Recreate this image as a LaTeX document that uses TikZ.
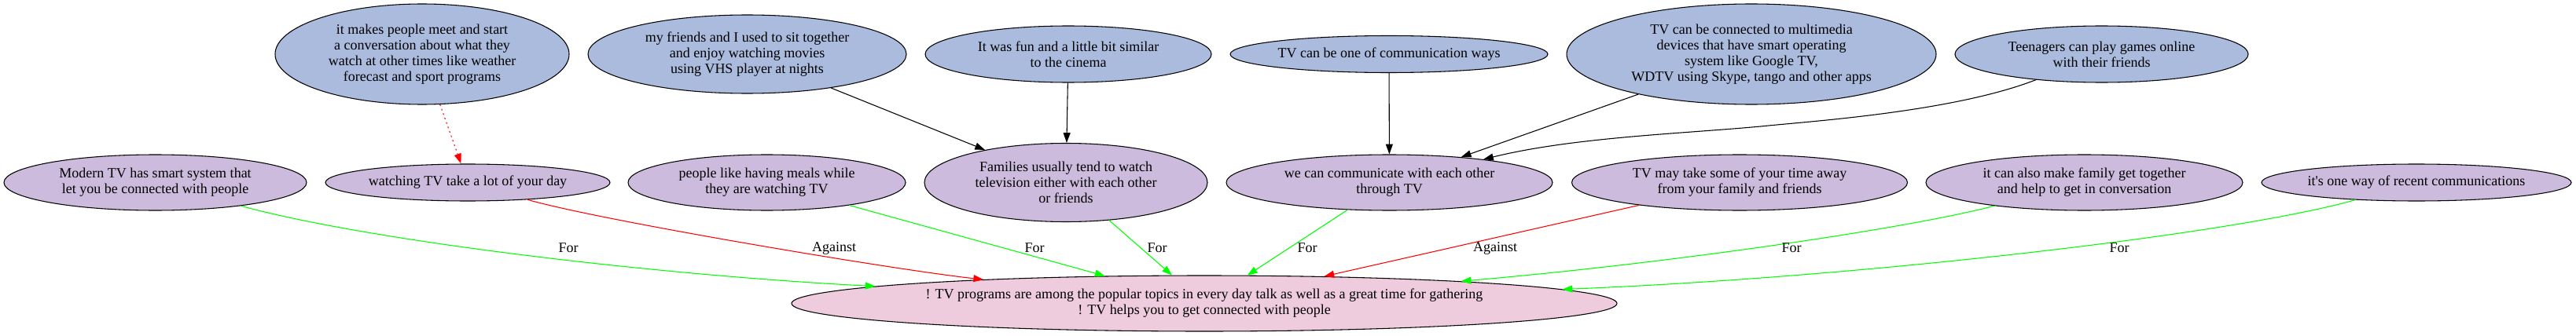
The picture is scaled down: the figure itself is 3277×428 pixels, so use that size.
\documentclass[tikz,border=0pt]{standalone}
\usepackage{fontspec}
\setmainfont{Liberation Serif}[Ligatures=TeXOff]
\usetikzlibrary{shapes.geometric,arrows.meta}
\definecolor{blueN}{HTML}{AABBDD}
\definecolor{purpN}{HTML}{CCBBDD}
\definecolor{pinkN}{HTML}{EECCDD}
\definecolor{grN}{HTML}{00FF00}
\definecolor{rdN}{HTML}{FF0000}
\begin{document}
\begin{tikzpicture}[x=0.75pt,y=-0.75pt,
  basenode/.style={ellipse, draw=black, line width=0.8pt, inner sep=0pt, align=center,
    font=\fontsize{13.5pt}{15pt}\selectfont},
  sz/.style 2 args={minimum width=#1*0.75pt, minimum height=#2*0.75pt},
  claimnode/.style={basenode, fill=blueN},
  reasonnode/.style={basenode, fill=purpN},
  goalnode/.style={basenode, fill=pinkN},
  lbl/.style={inner sep=0pt, font=\fontsize{13.5pt}{15pt}\selectfont},
  conn/.style={line width=0.8pt, -{Triangle[length=9.6pt,width=6.7pt]}},
  pro/.style={conn, color=grN},
  con/.style={conn, color=rdN},
  supp/.style={conn, color=black},
  dotcon/.style={conn, color=rdN, dash pattern=on 1.5pt off 3pt},
]
\useasboundingbox (0,0) rectangle (3277,428);

% top row
\node[claimnode, sz={374}{128}] (t1) at (537,69) {it makes people meet and start\\a conversation about what they\\watch at other times like weather\\forecast and sport programs};
\node[claimnode, sz={405}{100}] (t2) at (950.5,69) {my friends and I used to sit together\\and enjoy watching movies\\using VHS player at nights};
\node[claimnode, sz={364}{72}] (t3) at (1359,69) {It was fun and a little bit similar\\to the cinema};
\node[claimnode, sz={404}{47}] (t4) at (1767,69) {TV can be one of communication ways};
\node[claimnode, sz={470}{128}] (t5) at (2228,69) {TV can be connected to multimedia\\devices that have smart operating\\system like Google TV,\\WDTV using Skype, tango and other apps};
\node[claimnode, sz={373}{72}] (t6) at (2673.5,69) {Teenagers can play games online\\with their friends};

% middle row
\node[reasonnode, sz={385}{71}] (m1) at (197.5,232.5) {Modern TV has smart system that\\let you be connected with people};
\node[reasonnode, sz={362}{47}] (m2) at (595,232.5) {watching TV take a lot of your day};
\node[reasonnode, sz={353}{71}] (m3) at (975.5,232.5) {people like having meals while\\they are watching TV};
\node[reasonnode, sz={360}{100}] (m4) at (1356,232.5) {Families usually tend to watch\\television either with each other\\or friends};
\node[reasonnode, sz={415}{71}] (m5) at (1767.5,232.5) {we can communicate with each other\\through TV};
\node[reasonnode, sz={427}{71}] (m6) at (2213,232.5) {TV may take some of your time away\\from your family and friends};
\node[reasonnode, sz={403}{71}] (m7) at (2651.5,232.5) {it can also make family get together\\and help to get in conversation};
\node[reasonnode, sz={394}{47}] (m8) at (3074,232.5) {it's one way of recent communications};

% goal
\node[goalnode, sz={1050}{71}] (main) at (1532,386.5) {! TV programs are among the popular topics in every day talk as well as a great time for gathering\\! TV helps you to get connected with people};

% support edges
\draw[dotcon] (t1) -- (m2);
\draw[supp] (t2) -- (m4);
\draw[supp] (t3) -- (m4);
\draw[supp] (t4) -- (m5);
\draw[supp] (t5) -- (m5);
\draw[supp] (t6) .. controls (2487.6,141.6) and (2310,154) .. (2250,160)
  .. controls (2150,170) and (2004.5,174) .. (m5);

% for / against edges
\draw[pro] (m1) .. controls (470,307) and (832,350) .. (main);
\draw[con] (m2) .. controls (764,281) and (1140,344) .. (main);
\draw[pro] (m3) -- (main);
\draw[pro] (m4) -- (main);
\draw[pro] (m5) -- (main);
\draw[con] (m6) -- (main);
\draw[pro] (m7) .. controls (2422.5,292) and (2120.6,335.6) .. (main);
\draw[pro] (m8) .. controls (2840,299) and (2356,354) .. (main);

% labels
\node[lbl] (l1) at (723,316) {For};
\node[lbl] (l2) at (1061,316) {Against};
\node[lbl] (l3) at (1316,316) {For};
\node[lbl] (l4) at (1472,316) {For};
\node[lbl] (l5) at (1663,316) {For};
\node[lbl] (l6) at (1902,316) {Against};
\node[lbl] (l7) at (2279,316) {For};
\node[lbl] (l8) at (2696,316) {For};
\end{tikzpicture}
\end{document}
